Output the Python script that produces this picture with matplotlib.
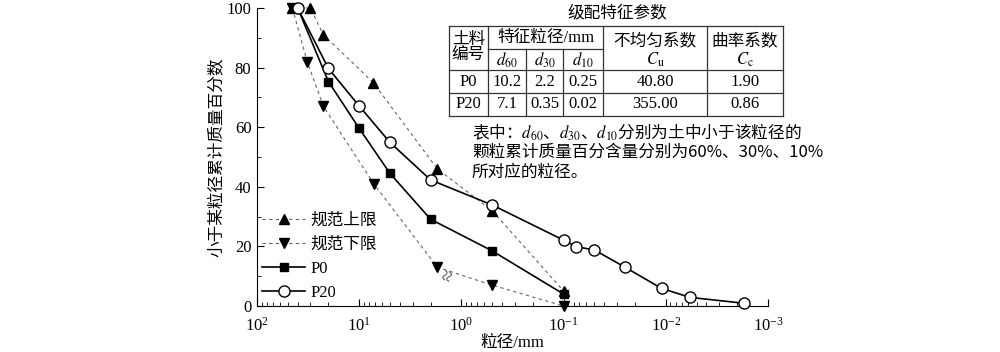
import numpy as np
import matplotlib.pyplot as plt
from matplotlib.lines import Line2D

plt.rcParams['font.family'] = ['Liberation Serif', 'Noto Sans CJK SC']
plt.rcParams['mathtext.fontset'] = 'stix'
plt.rcParams['axes.unicode_minus'] = True

# grading curves (particle size in mm, percent finer)
upper_d = [45, 30, 22.4, 7.3, 1.72, 0.5, 0.1]
upper_p = [100, 100, 91, 75, 46, 32, 5]
lower_d = [45, 32.3, 22.4, 7.2, 1.72, 0.5, 0.1]
lower_p = [100, 82, 67, 41, 13, 7, 0]
p0_d = [40, 20, 10, 5, 2, 0.5, 0.1]
p0_p = [100, 75.3, 59.6, 44.5, 29.1, 18.5, 4.0]
p20_d = [40, 20, 10, 5, 2, 0.5, 0.1, 0.075, 0.05, 0.025, 0.011, 0.0058, 0.0017]
p20_p = [100, 79.7, 67.1, 54.9, 42.3, 33.9, 22.1, 19.9, 18.8, 13.0, 5.9, 2.9, 0.9]

# table of grading parameters
samples = ['P0', 'P20']
d60 = ['10.2', '7.1']
d30 = ['2.2', '0.35']
d10 = ['0.25', '0.02']
cu = ['40.80', '355.00']
cc = ['1.90', '0.86']

W, H = 1000, 352
fig = plt.figure(figsize=(10, 3.52), dpi=100)
ax = fig.add_axes([257 / W, 1 - 306 / H, (768 - 257) / W, (306 - 8) / H])


def fx(x):
    return x / W


def fy(y):
    return 1 - y / H


ax.plot(upper_d, upper_p, marker='^', ms=7.5, label='规范上限', clip_on=False, zorder=3)
ax.plot(lower_d, lower_p, marker='v', ms=7.5, label='规范下限', clip_on=False, zorder=3)
for ln in ax.lines:
    ln.set_color('#666666')
    ln.set_linewidth(0.8)
    ln.set_dashes((3, 3))
    ln.set_markerfacecolor('black')
    ln.set_markeredgecolor('black')
ax.plot(p0_d, p0_p, marker='s', ms=6, color='black', lw=1.2,
        label='P0', clip_on=False, zorder=4)
ax.plot(p20_d, p20_p, marker='o', ms=8, color='black', mfc='white', lw=1.2,
        label='P20', clip_on=False, zorder=5)

# break mark on the lower-limit curve
ax.text(1.3, 10, '≈', rotation=70, fontsize=15, ha='center', va='center',
        color='#555555')

ax.set_xscale('log')
ax.set_xlim(100, 0.001)
ax.set_ylim(0, 100)
ax.set_yticks([0, 20, 40, 60, 80, 100])
ax.set_yticks([10, 30, 50, 70, 90], minor=True)
ax.spines['top'].set_visible(False)
ax.spines['right'].set_visible(False)
ax.tick_params(which='both', direction='in', labelsize=12)
ax.tick_params(which='major', length=5, pad=4)
ax.tick_params(which='minor', length=3)
ax.tick_params(axis='x', which='major', pad=8)
ax.set_xlabel('粒径/mm', fontsize=12, labelpad=0)
ax.set_ylabel('小于某粒径累计质量百分数', fontsize=12, labelpad=1)

ax.legend(loc='lower left', frameon=False, fontsize=12, handlelength=2.6,
          handletextpad=0.3, labelspacing=0.48, borderaxespad=0.1,
          borderpad=0.2)

# table drawn in figure pixels
lk = dict(color='#333333', lw=0.9)
left, right, top, bottom = 449, 783, 26, 116
c1, c2, c3, c4, c5 = 488, 526, 563, 603, 707
r_sub, r_head, r_p0 = 49, 70, 93
for y in [top, r_head, r_p0, bottom]:
    fig.add_artist(Line2D([fx(left), fx(right)], [fy(y), fy(y)], **lk))
fig.add_artist(Line2D([fx(c1), fx(c4)], [fy(r_sub), fy(r_sub)], **lk))
for x in [left, c1, c4, c5, right]:
    fig.add_artist(Line2D([fx(x), fx(x)], [fy(top), fy(bottom)], **lk))
for x in [c2, c3]:
    fig.add_artist(Line2D([fx(x), fx(x)], [fy(r_sub), fy(bottom)], **lk))

fs = 12
fig.text(fx(617), fy(13), '级配特征参数', fontsize=fs, ha='center', va='center')
fig.text(fx((left + c1) / 2), fy(48), '土料\n编号', fontsize=fs, ha='center',
         va='center', linespacing=0.95)
fig.text(fx((c1 + c4) / 2), fy(38), '特征粒径/mm', fontsize=fs, ha='center',
         va='center')
for x0, x1, s in [(c1, c2, '$d_{60}$'), (c2, c3, '$d_{30}$'), (c3, c4, '$d_{10}$')]:
    fig.text(fx((x0 + x1) / 2), fy(60), s, fontsize=fs, ha='center', va='center')
fig.text(fx((c4 + c5) / 2), fy(41), '不均匀系数', fontsize=fs, ha='center', va='center')
fig.text(fx((c4 + c5) / 2), fy(60), r'$C_\mathrm{u}$', fontsize=fs, ha='center', va='center')
fig.text(fx((c5 + right) / 2), fy(41), '曲率系数', fontsize=fs, ha='center', va='center')
fig.text(fx((c5 + right) / 2), fy(60), r'$C_\mathrm{c}$', fontsize=fs, ha='center', va='center')

row_y = [(r_head + r_p0) / 2, (r_p0 + bottom) / 2]
for i in range(len(samples)):
    vals = [samples[i], d60[i], d30[i], d10[i], cu[i], cc[i]]
    cols = [left, c1, c2, c3, c4, c5, right]
    for j, v in enumerate(vals):
        fig.text(fx((cols[j] + cols[j + 1]) / 2), fy(row_y[i]), v, fontsize=fs,
                 ha='center', va='center')

note = [r'表中：$d_{60}$、$d_{30}$、$d_{10}$分别为土中小于该粒径的',
        '颗粒累计质量百分含量分别为60%、30%、10%',
        '所对应的粒径。']
for k, s in enumerate(note):
    fig.text(fx(472), fy(132 + 20 * k), s, fontsize=fs, ha='left', va='center',
             family=['Noto Sans CJK SC', 'Liberation Serif'])

fig.savefig('out.png', dpi=100)
